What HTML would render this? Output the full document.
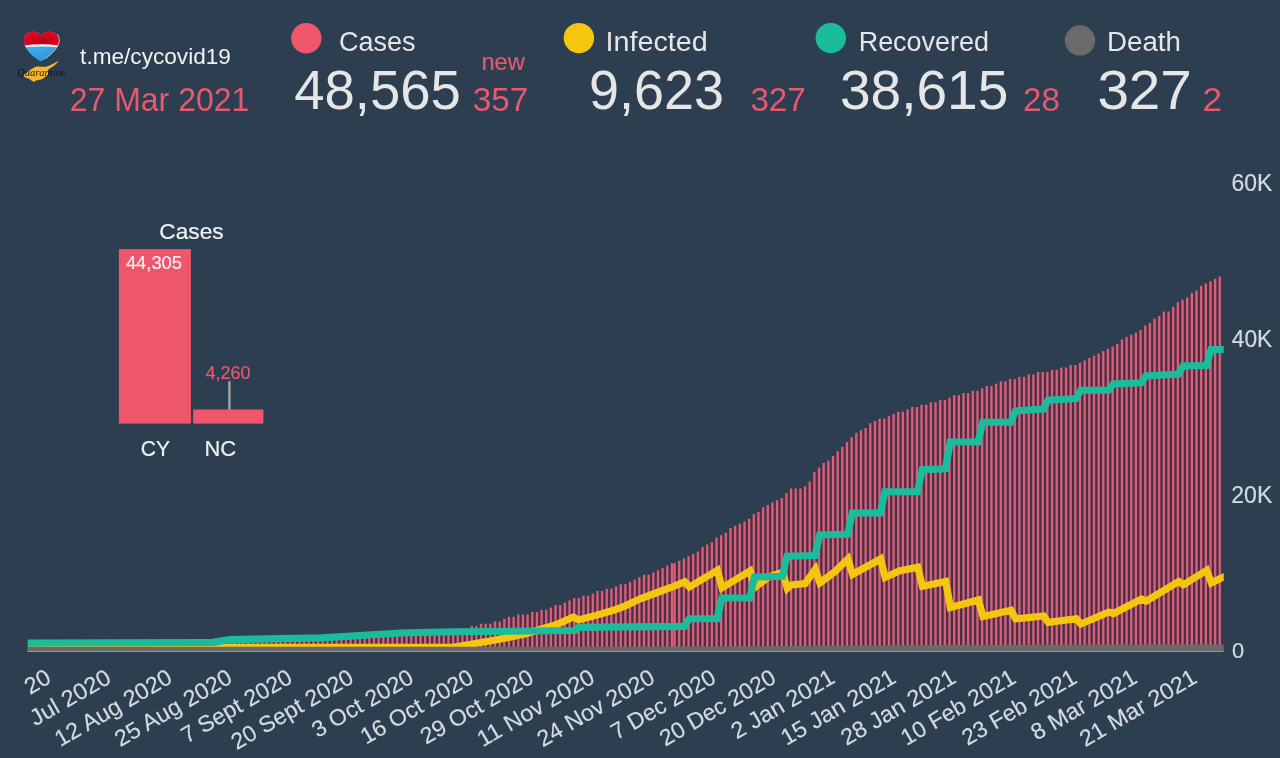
<!DOCTYPE html>
<html lang="en"><head><meta charset="utf-8"><title>CY COVID-19 — 27 Mar 2021</title>
<style>html,body{margin:0;padding:0;background:#2c3e50;overflow:hidden}svg{display:block}text{font-family:'Liberation Sans', sans-serif;white-space:pre}</style></head><body>
<svg width="1280" height="758" viewBox="0 0 1280 758">
<rect width="1280" height="758" fill="#2c3e50"/>
<g id="logo">
<defs>
<linearGradient id="hb" x1="0.2" y1="0" x2="0.7" y2="1"><stop offset="0" stop-color="#58c8ea"/><stop offset="0.55" stop-color="#3aa6e6"/><stop offset="1" stop-color="#2a82dc"/></linearGradient>
<radialGradient id="hr" cx="0.5" cy="0.75" r="0.6"><stop offset="0" stop-color="#b4001a"/><stop offset="0.55" stop-color="#d8021e"/><stop offset="1" stop-color="#e6061f"/></radialGradient>
<clipPath id="hc"><path d="M41.1 36.1C39.6 33.1 36.4 31.6 32.8 31.7C27.6 31.8 23.7 35.6 23.8 40.4C23.9 44.6 26 48.6 30 53.2C33.2 56.8 37.6 59.6 40.8 61.5C44.2 59.6 48.8 56.8 52 53.2C56.4 48.4 59.3 44.6 59.4 40.4C59.5 35.6 55.2 31.8 49.8 31.7C46 31.6 42.6 33.1 41.1 36.1Z"/></clipPath>
</defs>
<g clip-path="url(#hc)">
<rect x="20" y="28" width="44" height="40" fill="url(#hb)"/>
<path d="M20 28H64V46.6Q41.5 43.2 20 46.6Z" fill="url(#hr)"/>
<path d="M20 46.3Q41.5 42.4 64 46.3V48Q41.5 45 20 48Z" fill="#f3f6fa"/>
</g>
<path d="M57.6 34.6C60.4 38.4 59.6 43.6 56.4 48C53.6 52 49.6 55.6 45.4 58.6" fill="none" stroke="#d5d8dc" stroke-width="0.9" stroke-linecap="round" opacity="0.85"/>
<path d="M58.9 60.5C55.6 62.4 51.6 64.6 47.6 66.2C45.2 67.1 42.4 66.6 40 66.8C37.6 66.2 35.6 66.4 34 67.8C31.6 68.6 29.6 70.4 27.6 72C25.6 73 24 74 23.5 75.4C24.4 77.6 26.8 78 29 78.6C30.8 80.2 32.6 81.6 34.4 82C35.6 80.6 37 80.2 38.8 80C41.6 79.6 44 78.6 45.6 76.6C47.6 75.6 48.6 74 48 72.2C47.4 70.4 48.6 69 50.6 68C53.8 66.2 57 63.6 58.9 60.5Z" fill="#f5b52c"/>
<text transform="translate(17.2 75.6) scale(0.92 1)" style="font-family:'Liberation Serif',serif;font-style:italic" font-size="11.4" fill="#0d1017" opacity="0.92">Quarantine</text>
</g>
<circle cx="306.3" cy="38.3" r="15.2" fill="#ee566c"/>
<circle cx="578.9" cy="38.1" r="15.2" fill="#f4c60f"/>
<circle cx="830.8" cy="38.1" r="15.2" fill="#1abc9c"/>
<circle cx="1080" cy="40.4" r="15.2" fill="#6a6a6a"/>
<rect x="118.9" y="249.1" width="72" height="174.5" fill="#ee566c"/>
<rect x="193.2" y="409.5" width="70.2" height="14.1" fill="#ee566c"/>
<rect x="228.2" y="381.3" width="2.4" height="28.4" fill="#a3a7aa"/>
<defs><clipPath id="plot"><rect x="27.75" y="150" width="1196" height="501.9"/></clipPath></defs>
<g clip-path="url(#plot)">
<polygon points="28.26,649.00 29.42,643.39 34.08,643.39 38.73,643.39 43.39,643.39 48.04,643.39 52.70,643.39 57.36,643.39 62.01,643.39 66.67,643.39 71.32,643.39 75.98,643.39 80.64,643.39 85.29,643.39 89.95,643.39 94.60,643.39 99.26,643.39 103.92,643.39 108.57,643.39 113.23,643.39 117.88,643.39 122.54,643.39 127.20,643.39 131.85,643.39 136.51,643.39 141.16,643.39 145.82,643.39 150.48,643.39 155.13,643.39 159.79,643.39 164.44,643.39 169.10,643.39 173.76,643.39 178.41,643.39 183.07,643.39 187.72,643.39 192.38,643.39 197.04,643.39 201.69,643.39 206.35,643.39 211.00,643.39 215.66,643.39 220.32,641.06 224.97,641.06 229.63,641.06 234.28,641.06 238.94,641.06 243.60,641.06 248.25,641.06 252.91,641.06 257.56,638.73 262.22,638.73 266.88,638.73 271.53,638.73 276.19,638.73 280.84,638.73 285.50,638.73 290.16,638.73 294.81,638.73 299.47,638.73 304.12,638.73 308.78,638.73 313.44,638.73 318.09,638.73 322.75,638.73 327.40,638.73 332.06,638.73 336.72,636.40 341.37,636.40 346.03,636.40 350.68,636.40 355.34,636.40 360.00,636.40 364.65,636.40 369.31,636.40 373.96,636.40 378.62,634.07 383.28,634.07 387.93,634.07 392.59,634.07 397.24,634.07 401.90,634.07 406.56,634.07 411.21,634.07 415.87,634.07 420.52,634.07 425.18,634.07 429.84,631.74 434.49,631.74 439.15,631.74 443.80,631.74 448.46,631.74 453.12,629.41 457.77,629.41 462.43,629.41 467.08,629.41 471.74,627.08 476.40,627.08 481.05,624.74 485.71,624.74 490.36,624.74 495.02,622.41 499.68,622.41 504.33,620.08 508.99,617.75 513.64,617.75 518.30,615.42 522.96,615.42 527.61,615.42 532.27,613.09 536.92,613.09 541.58,610.76 546.24,610.76 550.89,608.43 555.55,606.10 560.20,606.10 564.86,603.77 569.52,601.44 574.17,599.11 578.83,599.11 583.48,596.78 588.14,596.78 592.80,594.45 597.45,592.12 602.11,592.12 606.76,589.79 611.42,589.79 616.08,587.46 620.73,585.13 625.39,585.13 630.04,582.80 634.70,580.46 639.36,578.13 644.01,575.80 648.67,575.80 653.32,573.47 657.98,571.14 662.64,568.81 667.29,566.48 671.95,564.15 674.58,564.15 679.24,561.82 683.90,559.49 688.56,557.16 693.22,554.83 697.88,552.50 702.54,547.84 707.20,545.51 711.86,543.18 716.52,538.52 721.18,536.19 725.84,533.86 730.50,529.19 735.16,526.86 739.82,524.53 744.48,522.20 749.14,519.87 753.80,515.21 758.46,512.88 763.12,508.22 767.78,505.89 772.44,503.56 777.10,501.23 781.76,498.90 786.42,494.24 791.08,489.58 795.74,489.58 800.40,489.58 805.06,487.25 809.72,482.58 814.38,473.26 819.04,468.60 823.70,463.94 828.36,461.61 833.02,456.95 837.68,452.29 842.34,447.63 847.00,442.97 851.66,438.30 856.32,433.64 860.98,431.31 865.64,428.98 870.30,424.32 874.96,421.99 879.62,419.66 884.28,419.66 888.94,417.33 893.60,415.00 898.26,412.67 902.92,412.67 907.58,410.34 912.24,408.01 916.90,408.01 921.56,405.68 926.22,405.68 930.88,403.35 935.54,403.35 940.20,401.02 944.86,401.02 949.52,398.69 954.18,396.36 958.84,396.36 963.50,394.02 968.16,394.02 972.82,391.69 977.48,391.69 982.14,389.36 986.80,387.03 991.46,387.03 996.12,384.70 1000.78,382.37 1005.44,382.37 1010.10,380.04 1014.76,380.04 1019.42,377.71 1024.08,377.71 1028.74,375.38 1033.40,375.38 1038.06,373.05 1042.72,373.05 1047.38,373.05 1052.04,370.72 1056.70,370.72 1061.36,368.39 1066.02,368.39 1070.68,366.06 1075.34,366.06 1080.00,363.73 1084.66,361.40 1089.32,359.07 1093.98,356.74 1098.64,354.41 1103.30,352.08 1107.96,349.75 1112.62,347.41 1117.28,345.08 1121.94,340.42 1126.60,338.09 1131.26,335.76 1135.92,333.43 1140.58,331.10 1145.24,326.44 1149.90,324.11 1154.56,319.45 1159.22,317.12 1163.88,312.46 1168.54,312.46 1173.20,307.80 1177.86,303.14 1182.52,300.81 1187.18,298.47 1191.84,293.81 1196.50,291.48 1201.16,286.82 1205.82,284.49 1210.48,282.16 1215.14,279.83 1219.80,277.50 1220.37,277.50 1220.37,649.00" fill="#4c2e45"/>
<path d="M28.26 649V642.39h2.33V649zM32.91 649V642.39h2.33V649zM37.57 649V642.39h2.33V649zM42.22 649V642.39h2.33V649zM46.88 649V642.39h2.33V649zM51.53 649V642.39h2.33V649zM56.19 649V642.39h2.33V649zM60.85 649V642.39h2.33V649zM65.50 649V642.39h2.33V649zM70.16 649V642.39h2.33V649zM74.82 649V642.39h2.33V649zM79.47 649V642.39h2.33V649zM84.13 649V642.39h2.33V649zM88.78 649V642.39h2.33V649zM93.44 649V642.39h2.33V649zM98.09 649V642.39h2.33V649zM102.75 649V642.39h2.33V649zM107.41 649V642.39h2.33V649zM112.06 649V642.39h2.33V649zM116.72 649V642.39h2.33V649zM121.38 649V642.39h2.33V649zM126.03 649V642.39h2.33V649zM130.69 649V642.39h2.33V649zM135.34 649V642.39h2.33V649zM140.00 649V642.39h2.33V649zM144.66 649V642.39h2.33V649zM149.31 649V642.39h2.33V649zM153.97 649V642.39h2.33V649zM158.62 649V642.39h2.33V649zM163.28 649V642.39h2.33V649zM167.94 649V642.39h2.33V649zM172.59 649V642.39h2.33V649zM177.25 649V642.39h2.33V649zM181.90 649V642.39h2.33V649zM186.56 649V642.39h2.33V649zM191.22 649V642.39h2.33V649zM195.87 649V642.39h2.33V649zM200.53 649V642.39h2.33V649zM205.18 649V642.39h2.33V649zM209.84 649V642.39h2.33V649zM214.50 649V642.39h2.33V649zM219.15 649V640.06h2.33V649zM223.81 649V640.06h2.33V649zM228.46 649V640.06h2.33V649zM233.12 649V640.06h2.33V649zM237.78 649V640.06h2.33V649zM242.43 649V640.06h2.33V649zM247.09 649V640.06h2.33V649zM251.74 649V640.06h2.33V649zM256.40 649V637.73h2.33V649zM261.06 649V637.73h2.33V649zM265.71 649V637.73h2.33V649zM270.37 649V637.73h2.33V649zM275.02 649V637.73h2.33V649zM279.68 649V637.73h2.33V649zM284.33 649V637.73h2.33V649zM288.99 649V637.73h2.33V649zM293.65 649V637.73h2.33V649zM298.30 649V637.73h2.33V649zM302.96 649V637.73h2.33V649zM307.61 649V637.73h2.33V649zM312.27 649V637.73h2.33V649zM316.93 649V637.73h2.33V649zM321.58 649V637.73h2.33V649zM326.24 649V637.73h2.33V649zM330.89 649V637.73h2.33V649zM335.55 649V635.40h2.33V649zM340.21 649V635.40h2.33V649zM344.86 649V635.40h2.33V649zM349.52 649V635.40h2.33V649zM354.17 649V635.40h2.33V649zM358.83 649V635.40h2.33V649zM363.49 649V635.40h2.33V649zM368.14 649V635.40h2.33V649zM372.80 649V635.40h2.33V649zM377.45 649V633.07h2.33V649zM382.11 649V633.07h2.33V649zM386.77 649V633.07h2.33V649zM391.42 649V633.07h2.33V649zM396.08 649V633.07h2.33V649zM400.73 649V633.07h2.33V649zM405.39 649V633.07h2.33V649zM410.05 649V633.07h2.33V649zM414.70 649V633.07h2.33V649zM419.36 649V633.07h2.33V649zM424.01 649V633.07h2.33V649zM428.67 649V630.74h2.33V649zM433.33 649V630.74h2.33V649zM437.98 649V630.74h2.33V649zM442.64 649V630.74h2.33V649zM447.29 649V630.74h2.33V649zM451.95 649V628.41h2.33V649zM456.61 649V628.41h2.33V649zM461.26 649V628.41h2.33V649zM465.92 649V628.41h2.33V649zM470.57 649V626.08h2.33V649zM475.23 649V626.08h2.33V649zM479.89 649V623.74h2.33V649zM484.54 649V623.74h2.33V649zM489.20 649V623.74h2.33V649zM493.85 649V621.41h2.33V649zM498.51 649V621.41h2.33V649zM503.17 649V619.08h2.33V649zM507.82 649V616.75h2.33V649zM512.48 649V616.75h2.33V649zM517.13 649V614.42h2.33V649zM521.79 649V614.42h2.33V649zM526.45 649V614.42h2.33V649zM531.10 649V612.09h2.33V649zM535.76 649V612.09h2.33V649zM540.41 649V609.76h2.33V649zM545.07 649V609.76h2.33V649zM549.73 649V607.43h2.33V649zM554.38 649V605.10h2.33V649zM559.04 649V605.10h2.33V649zM563.69 649V602.77h2.33V649zM568.35 649V600.44h2.33V649zM573.01 649V598.11h2.33V649zM577.66 649V598.11h2.33V649zM582.32 649V595.78h2.33V649zM586.98 649V595.78h2.33V649zM591.63 649V593.45h2.33V649zM596.29 649V591.12h2.33V649zM600.94 649V591.12h2.33V649zM605.60 649V588.79h2.33V649zM610.25 649V588.79h2.33V649zM614.91 649V586.46h2.33V649zM619.57 649V584.13h2.33V649zM624.22 649V584.13h2.33V649zM628.88 649V581.80h2.33V649zM633.53 649V579.46h2.33V649zM638.19 649V577.13h2.33V649zM642.85 649V574.80h2.33V649zM647.50 649V574.80h2.33V649zM652.16 649V572.47h2.33V649zM656.82 649V570.14h2.33V649zM661.47 649V567.81h2.33V649zM666.13 649V565.48h2.33V649zM670.78 649V563.15h2.33V649zM673.41 649V563.15h2.33V649zM678.07 649V560.82h2.33V649zM682.74 649V558.49h2.33V649zM687.39 649V556.16h2.33V649zM692.05 649V553.83h2.33V649zM696.71 649V551.50h2.33V649zM701.38 649V546.84h2.33V649zM706.03 649V544.51h2.33V649zM710.69 649V542.18h2.33V649zM715.36 649V537.52h2.33V649zM720.01 649V535.19h2.33V649zM724.67 649V532.86h2.33V649zM729.34 649V528.19h2.33V649zM734.00 649V525.86h2.33V649zM738.65 649V523.53h2.33V649zM743.32 649V521.20h2.33V649zM747.97 649V518.87h2.33V649zM752.63 649V514.21h2.33V649zM757.29 649V511.88h2.33V649zM761.95 649V507.22h2.33V649zM766.62 649V504.89h2.33V649zM771.27 649V502.56h2.33V649zM775.93 649V500.23h2.33V649zM780.60 649V497.90h2.33V649zM785.25 649V493.24h2.33V649zM789.91 649V488.58h2.33V649zM794.58 649V488.58h2.33V649zM799.23 649V488.58h2.33V649zM803.89 649V486.25h2.33V649zM808.55 649V481.58h2.33V649zM813.21 649V472.26h2.33V649zM817.88 649V467.60h2.33V649zM822.53 649V462.94h2.33V649zM827.19 649V460.61h2.33V649zM831.86 649V455.95h2.33V649zM836.51 649V451.29h2.33V649zM841.17 649V446.63h2.33V649zM845.84 649V441.97h2.33V649zM850.50 649V437.30h2.33V649zM855.15 649V432.64h2.33V649zM859.82 649V430.31h2.33V649zM864.47 649V427.98h2.33V649zM869.13 649V423.32h2.33V649zM873.79 649V420.99h2.33V649zM878.45 649V418.66h2.33V649zM883.12 649V418.66h2.33V649zM887.77 649V416.33h2.33V649zM892.43 649V414.00h2.33V649zM897.10 649V411.67h2.33V649zM901.75 649V411.67h2.33V649zM906.41 649V409.34h2.33V649zM911.08 649V407.01h2.33V649zM915.73 649V407.01h2.33V649zM920.39 649V404.68h2.33V649zM925.06 649V404.68h2.33V649zM929.71 649V402.35h2.33V649zM934.38 649V402.35h2.33V649zM939.03 649V400.02h2.33V649zM943.69 649V400.02h2.33V649zM948.36 649V397.69h2.33V649zM953.01 649V395.36h2.33V649zM957.67 649V395.36h2.33V649zM962.34 649V393.02h2.33V649zM967.00 649V393.02h2.33V649zM971.65 649V390.69h2.33V649zM976.32 649V390.69h2.33V649zM980.98 649V388.36h2.33V649zM985.63 649V386.03h2.33V649zM990.29 649V386.03h2.33V649zM994.95 649V383.70h2.33V649zM999.62 649V381.37h2.33V649zM1004.27 649V381.37h2.33V649zM1008.93 649V379.04h2.33V649zM1013.60 649V379.04h2.33V649zM1018.25 649V376.71h2.33V649zM1022.91 649V376.71h2.33V649zM1027.58 649V374.38h2.33V649zM1032.23 649V374.38h2.33V649zM1036.89 649V372.05h2.33V649zM1041.56 649V372.05h2.33V649zM1046.21 649V372.05h2.33V649zM1050.88 649V369.72h2.33V649zM1055.54 649V369.72h2.33V649zM1060.19 649V367.39h2.33V649zM1064.86 649V367.39h2.33V649zM1069.51 649V365.06h2.33V649zM1074.17 649V365.06h2.33V649zM1078.84 649V362.73h2.33V649zM1083.49 649V360.40h2.33V649zM1088.15 649V358.07h2.33V649zM1092.82 649V355.74h2.33V649zM1097.47 649V353.41h2.33V649zM1102.13 649V351.08h2.33V649zM1106.80 649V348.75h2.33V649zM1111.45 649V346.41h2.33V649zM1116.12 649V344.08h2.33V649zM1120.78 649V339.42h2.33V649zM1125.43 649V337.09h2.33V649zM1130.10 649V334.76h2.33V649zM1134.76 649V332.43h2.33V649zM1139.41 649V330.10h2.33V649zM1144.08 649V325.44h2.33V649zM1148.73 649V323.11h2.33V649zM1153.39 649V318.45h2.33V649zM1158.06 649V316.12h2.33V649zM1162.71 649V311.46h2.33V649zM1167.38 649V311.46h2.33V649zM1172.04 649V306.80h2.33V649zM1176.69 649V302.14h2.33V649zM1181.36 649V299.81h2.33V649zM1186.01 649V297.47h2.33V649zM1190.67 649V292.81h2.33V649zM1195.34 649V290.48h2.33V649zM1199.99 649V285.82h2.33V649zM1204.65 649V283.49h2.33V649zM1209.32 649V281.16h2.33V649zM1213.97 649V278.83h2.33V649zM1218.63 649V276.50h2.33V649z" fill="#d5617a"/>
<polyline transform="translate(0.9 0)" points="20.00,649.80 80.00,649.30 228.00,647.30 452.00,647.30 470.00,644.25 487.50,641.25 505.00,638.00 525.00,633.75 540.00,629.20 555.00,624.80 572.50,617.00 577.50,620.00 595.00,615.40 612.50,610.30 625.00,605.60 640.00,598.50 655.00,593.00 670.00,587.50 683.90,581.80 688.56,587.00 716.52,570.20 721.18,587.80 749.14,571.00 753.80,587.50 767.90,576.80 781.76,572.30 786.42,588.40 790.40,585.00 804.20,583.50 814.38,569.30 819.04,583.00 833.02,572.50 847.00,559.00 851.66,574.50 879.62,559.00 884.28,577.50 898.26,571.00 916.90,567.20 921.56,586.25 944.86,581.50 949.52,607.50 977.48,600.00 982.14,616.50 1010.10,610.30 1014.76,618.80 1042.72,616.00 1047.38,622.30 1075.34,618.80 1080.00,624.00 1107.96,612.00 1112.62,613.50 1140.58,599.00 1145.24,601.20 1177.86,581.50 1182.52,584.80 1205.82,570.30 1210.48,583.00 1219.80,578.30 1230.00,574.00" fill="none" stroke="#f4c60f" stroke-width="7.2" stroke-linejoin="miter" stroke-miterlimit="10"/>
<polyline points="20.00,650.45 600.00,650.45 700.00,650.20 830.00,649.40 950.00,648.70 1070.00,648.40 1230.00,648.15" fill="none" stroke="#6a6a6a" stroke-width="7.2"/>
<polyline transform="translate(1.2 0)" points="20.00,643.00 200.00,642.50 212.00,642.30 228.00,639.70 320.00,637.90 400.00,633.00 440.00,632.00 573.80,630.50 577.40,627.40 683.30,626.40 688.06,618.75 715.92,618.75 720.68,598.00 748.54,598.00 753.30,577.00 781.16,576.25 785.92,556.25 813.78,555.50 818.54,535.00 846.40,534.25 851.16,513.00 879.02,513.00 883.78,491.75 916.30,491.75 921.06,469.70 944.26,468.80 949.02,442.00 976.88,441.80 981.64,422.25 1009.50,422.25 1014.26,411.00 1042.12,409.00 1046.88,400.25 1074.74,398.50 1079.50,390.25 1107.36,390.25 1112.12,384.00 1139.98,382.75 1144.74,376.00 1177.26,374.00 1182.02,365.90 1205.22,365.50 1209.98,349.50 1230.00,349.50" fill="none" stroke="#1abc9c" stroke-width="7.2" stroke-linejoin="miter" stroke-miterlimit="10"/>
</g>
<rect x="27.75" y="651.05" width="1196" height="0.85" fill="#9d9fa1"/>
<text transform="translate(80.11 63.75) scale(0.9878 1)" font-size="22.90" fill="#f1f2f5">t.me/cycovid19</text>
<text transform="translate(69.65 111.25) scale(0.9418 1)" font-size="34.00" fill="#e8586e">27 Mar 2021</text>
<text transform="translate(338.90 51.00) scale(0.9818 1)" font-size="27.50" fill="#e6e6e6">Cases</text>
<text transform="translate(605.56 51.00) scale(1.0443 1)" font-size="27.52" fill="#e6e6e6">Infected</text>
<text transform="translate(858.69 51.00) scale(0.9794 1)" font-size="27.52" fill="#e6e6e6">Recovered</text>
<text transform="translate(1107.04 51.00) scale(1.0060 1)" font-size="27.52" fill="#e6e6e6">Death</text>
<text transform="translate(294.16 109.15) scale(0.9809 1)" font-size="55.57" fill="#e6e6e6">48,565</text>
<text transform="translate(589.07 109.15) scale(0.9698 1)" font-size="55.57" fill="#e6e6e6">9,623</text>
<text transform="translate(839.95 109.15) scale(0.9911 1)" font-size="55.57" fill="#e6e6e6">38,615</text>
<text transform="translate(1097.38 109.15) scale(1.0193 1)" font-size="55.57" fill="#e6e6e6">327</text>
<text transform="translate(481.47 69.75) scale(0.9577 1)" font-size="24.63" fill="#e8586e" stroke="#e8586e" stroke-width="0.2">new</text>
<text transform="translate(472.67 111.25) scale(0.9884 1)" font-size="33.71" fill="#e8586e">357</text>
<text transform="translate(750.42 111.25) scale(0.9837 1)" font-size="33.71" fill="#e8586e">327</text>
<text transform="translate(1022.99 111.25) scale(0.9843 1)" font-size="33.71" fill="#e8586e">28</text>
<text transform="translate(1202.48 111.25) scale(1.0495 1)" font-size="33.71" fill="#e8586e">2</text>
<text transform="translate(159.37 239.15) scale(1.0045 1)" font-size="22.57" fill="#eef1f4" stroke="#eef1f4" stroke-width="0.2">Cases</text>
<text transform="translate(125.88 268.75) scale(0.9813 1)" font-size="18.71" fill="#fdf0f2" stroke="#fdf0f2" stroke-width="0.2">44,305</text>
<text transform="translate(205.49 379.15) scale(0.9649 1)" font-size="18.71" fill="#e8586e" stroke="#e8586e" stroke-width="0.2">4,260</text>
<text transform="translate(140.69 455.75) scale(0.9232 1)" font-size="22.86" fill="#eef1f4" stroke="#eef1f4" stroke-width="0.2">CY</text>
<text transform="translate(204.49 455.75) scale(0.9608 1)" font-size="22.86" fill="#eef1f4" stroke="#eef1f4" stroke-width="0.2">NC</text>
<text transform="translate(1231.50 190.55) scale(0.9605 1)" font-size="23.86" fill="#d3dae0" stroke="#d3dae0" stroke-width="0.2">60K</text>
<text transform="translate(1231.79 346.85) scale(0.9711 1)" font-size="23.43" fill="#d3dae0" stroke="#d3dae0" stroke-width="0.2">40K</text>
<text transform="translate(1231.30 502.95) scale(0.9654 1)" font-size="23.86" fill="#d3dae0" stroke="#d3dae0" stroke-width="0.2">20K</text>
<text transform="translate(1231.88 658.35) scale(0.9691 1)" font-size="22.57" fill="#d3dae0" stroke="#d3dae0" stroke-width="0.2">0</text>
<text transform="translate(48.50 674.7) rotate(-30) scale(1.0273 1)" x="0" y="8.20" text-anchor="end" font-size="22.9" fill="#d3dae0" stroke="#d3dae0" stroke-width="0.18">20</text>
<text transform="translate(108.50 674.7) rotate(-30) scale(1.0332 1)" x="0" y="8.20" text-anchor="end" font-size="22.9" fill="#d3dae0" stroke="#d3dae0" stroke-width="0.18">Jul 2020</text>
<text transform="translate(169.75 674.7) rotate(-30) scale(1.0197 1)" x="0" y="8.20" text-anchor="end" font-size="22.9" fill="#d3dae0" stroke="#d3dae0" stroke-width="0.18">12 Aug 2020</text>
<text transform="translate(229.75 674.7) rotate(-30) scale(1.0197 1)" x="0" y="8.20" text-anchor="end" font-size="22.9" fill="#d3dae0" stroke="#d3dae0" stroke-width="0.18">25 Aug 2020</text>
<text transform="translate(289.75 674.7) rotate(-30) scale(1.0024 1)" x="0" y="8.20" text-anchor="end" font-size="22.9" fill="#d3dae0" stroke="#d3dae0" stroke-width="0.18">7 Sept 2020</text>
<text transform="translate(351.00 674.7) rotate(-30) scale(1.0047 1)" x="0" y="8.20" text-anchor="end" font-size="22.9" fill="#d3dae0" stroke="#d3dae0" stroke-width="0.18">20 Sept 2020</text>
<text transform="translate(411.00 674.7) rotate(-30) scale(1.0067 1)" x="0" y="8.20" text-anchor="end" font-size="22.9" fill="#d3dae0" stroke="#d3dae0" stroke-width="0.18">3 Oct 2020</text>
<text transform="translate(471.00 674.7) rotate(-30) scale(1.0088 1)" x="0" y="8.20" text-anchor="end" font-size="22.9" fill="#d3dae0" stroke="#d3dae0" stroke-width="0.18">16 Oct 2020</text>
<text transform="translate(531.00 674.7) rotate(-30) scale(1.0088 1)" x="0" y="8.20" text-anchor="end" font-size="22.9" fill="#d3dae0" stroke="#d3dae0" stroke-width="0.18">29 Oct 2020</text>
<text transform="translate(592.25 674.7) rotate(-30) scale(1.0239 1)" x="0" y="8.20" text-anchor="end" font-size="22.9" fill="#d3dae0" stroke="#d3dae0" stroke-width="0.18">11 Nov 2020</text>
<text transform="translate(652.25 674.7) rotate(-30) scale(1.0105 1)" x="0" y="8.20" text-anchor="end" font-size="22.9" fill="#d3dae0" stroke="#d3dae0" stroke-width="0.18">24 Nov 2020</text>
<text transform="translate(713.50 674.7) rotate(-30) scale(0.9971 1)" x="0" y="8.20" text-anchor="end" font-size="22.9" fill="#d3dae0" stroke="#d3dae0" stroke-width="0.18">7 Dec 2020</text>
<text transform="translate(773.50 674.7) rotate(-30) scale(1.0000 1)" x="0" y="8.20" text-anchor="end" font-size="22.9" fill="#d3dae0" stroke="#d3dae0" stroke-width="0.18">20 Dec 2020</text>
<text transform="translate(832.50 674.7) rotate(-30) scale(1.0178 1)" x="0" y="8.20" text-anchor="end" font-size="22.9" fill="#d3dae0" stroke="#d3dae0" stroke-width="0.18">2 Jan 2021</text>
<text transform="translate(893.50 674.7) rotate(-30) scale(1.0187 1)" x="0" y="8.20" text-anchor="end" font-size="22.9" fill="#d3dae0" stroke="#d3dae0" stroke-width="0.18">15 Jan 2021</text>
<text transform="translate(953.50 674.7) rotate(-30) scale(1.0187 1)" x="0" y="8.20" text-anchor="end" font-size="22.9" fill="#d3dae0" stroke="#d3dae0" stroke-width="0.18">28 Jan 2021</text>
<text transform="translate(1013.50 674.7) rotate(-30) scale(0.9979 1)" x="0" y="8.20" text-anchor="end" font-size="22.9" fill="#d3dae0" stroke="#d3dae0" stroke-width="0.18">10 Feb 2021</text>
<text transform="translate(1074.50 674.7) rotate(-30) scale(0.9979 1)" x="0" y="8.20" text-anchor="end" font-size="22.9" fill="#d3dae0" stroke="#d3dae0" stroke-width="0.18">23 Feb 2021</text>
<text transform="translate(1134.50 674.7) rotate(-30) scale(1.0174 1)" x="0" y="8.20" text-anchor="end" font-size="22.9" fill="#d3dae0" stroke="#d3dae0" stroke-width="0.18">8 Mar 2021</text>
<text transform="translate(1194.50 674.7) rotate(-30) scale(1.0183 1)" x="0" y="8.20" text-anchor="end" font-size="22.9" fill="#d3dae0" stroke="#d3dae0" stroke-width="0.18">21 Mar 2021</text>
</svg></body></html>
